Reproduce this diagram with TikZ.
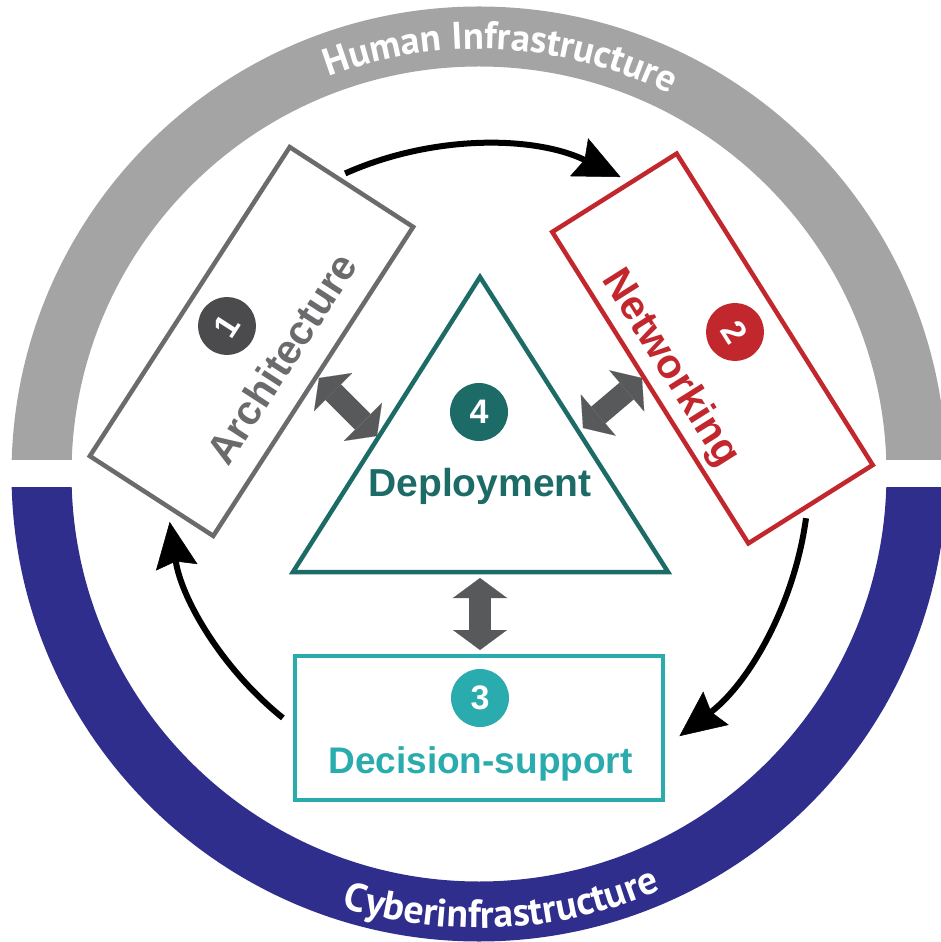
\documentclass[tikz,border=0pt]{standalone}
\usepackage{fontspec}
\setmainfont{Liberation Sans}
\newfontfamily\ringfont{PT Sans}
\usetikzlibrary{arrows.meta,decorations.text}

\definecolor{ringgray}{HTML}{A4A4A4}
\definecolor{ringblue}{HTML}{2F2E8C}
\definecolor{archgray}{HTML}{6B6B6D}
\definecolor{numgray}{HTML}{4B4B4D}
\definecolor{netred}{HTML}{C1272D}
\definecolor{depteal}{HTML}{1C6B67}
\definecolor{decteal}{HTML}{2AABAE}
\definecolor{linkgray}{HTML}{58595B}

\tikzset{
  phase/.style={draw=#1, line width=4.5pt, minimum width=368pt, minimum height=147pt, inner sep=0pt},
  num/.style={circle, fill=#1, minimum size=58pt, inner sep=0pt, text=white, font=\bfseries\fontsize{34}{34}\selectfont},
  lbl/.style={text=#1, inner sep=0pt, anchor=base, font=\bfseries\fontsize{41}{41}\selectfont},
  turn/.style={line width=6pt, -{Stealth[length=46pt,width=42pt,inset=6pt,line width=0.5pt]}},
  link/.style={linkgray, line width=22pt, {Triangle[length=20pt,width=54pt,line width=0.1pt]}-{Triangle[length=20pt,width=54pt,line width=0.1pt]}},
  ringtext/.style={decorate, decoration={text along path, text align=center, text={#1}}}
}

\begin{document}
\begin{tikzpicture}[x=1pt,y=1pt]
  \useasboundingbox (-479,-468) rectangle (461,474);

  \begin{scope}
    \clip (-480,14) rectangle (480,480);
    \fill[ringgray, even odd rule] (0,0) circle (467.5pt) (0,0) circle (407.5pt);
  \end{scope}
  \begin{scope}
    \clip (-480,-14) rectangle (480,-480);
    \fill[ringblue, even odd rule] (0,0) circle (467.5pt) (0,0) circle (407.5pt);
  \end{scope}
  \path[ringtext={|\ringfont\bfseries\fontsize{38.5}{38.5}\selectfont\color{white}|Human Infrastructure}]
    (127:425pt) arc[start angle=127, end angle=47, radius=425pt];
  \path[ringtext={|\ringfont\bfseries\fontsize{39.5}{39.5}\selectfont\color{white}|Cyberinfrastructure}]
    (-127:454pt) arc[start angle=-127, end angle=-47, radius=454pt];

  \coordinate (t1) at (1,197);
  \coordinate (t2) at (-186,-98);
  \coordinate (t3) at (189,-98);
  \draw[depteal, line width=4.5pt] (t1) -- (t2) -- (t3) -- cycle;

  \node[phase=archgray, rotate=57.1] (arch) at (-227.5,132.5) {};
  \node[phase=netred, rotate=-57.8] (net) at (233.5,125.5) {};
  \node[phase=decteal, minimum height=144pt] (dec) at (0,-254) {};

  \node[num=numgray, rotate=57.1] (n1) at (-252,148) {1};
  \node[num=netred, rotate=-57.8] (n2) at (256,142) {2};
  \node[num=decteal] (n3) at (1,-224) {3};
  \node[num=depteal] (n4) at (0,62) {4};

  \node[lbl=archgray, rotate=57.1] (archlbl) at (-185.2,107.5) {Architecture};
  \node[lbl=netred, rotate=-57.8] (netlbl) at (182.1,99.7) {Networking};
  \node[lbl=depteal, font=\bfseries\fontsize{39}{39}\selectfont] (deplbl) at (1,-23) {Deployment};
  \node[lbl=decteal, font=\bfseries\fontsize{37}{37}\selectfont] (declbl) at (1.5,-299) {Decision-support};

  \coordinate (c12) at (114:329pt);
  \coordinate (c23) at (-7.7:330pt);
  \coordinate (c31) at (231.2:313pt);
  \draw[turn] (c12) arc[start angle=114, end angle=64.5, radius=329pt];
  \draw[turn] (c23) arc[start angle=-7.7, end angle=-52.6, radius=330pt];
  \draw[turn] (c31) arc[start angle=231.2, end angle=188.8, radius=313pt];

  \coordinate (l1a) at (-160,96);
  \coordinate (l1b) at (-102,38);
  \coordinate (l2a) at (104,46);
  \coordinate (l2b) at (163,96);
  \coordinate (l3a) at (1,-104);
  \coordinate (l3b) at (1,-176);
  \draw[link] (l1a) -- (l1b);
  \draw[link] (l2a) -- (l2b);
  \draw[link] (l3a) -- (l3b);
\end{tikzpicture}
\end{document}
